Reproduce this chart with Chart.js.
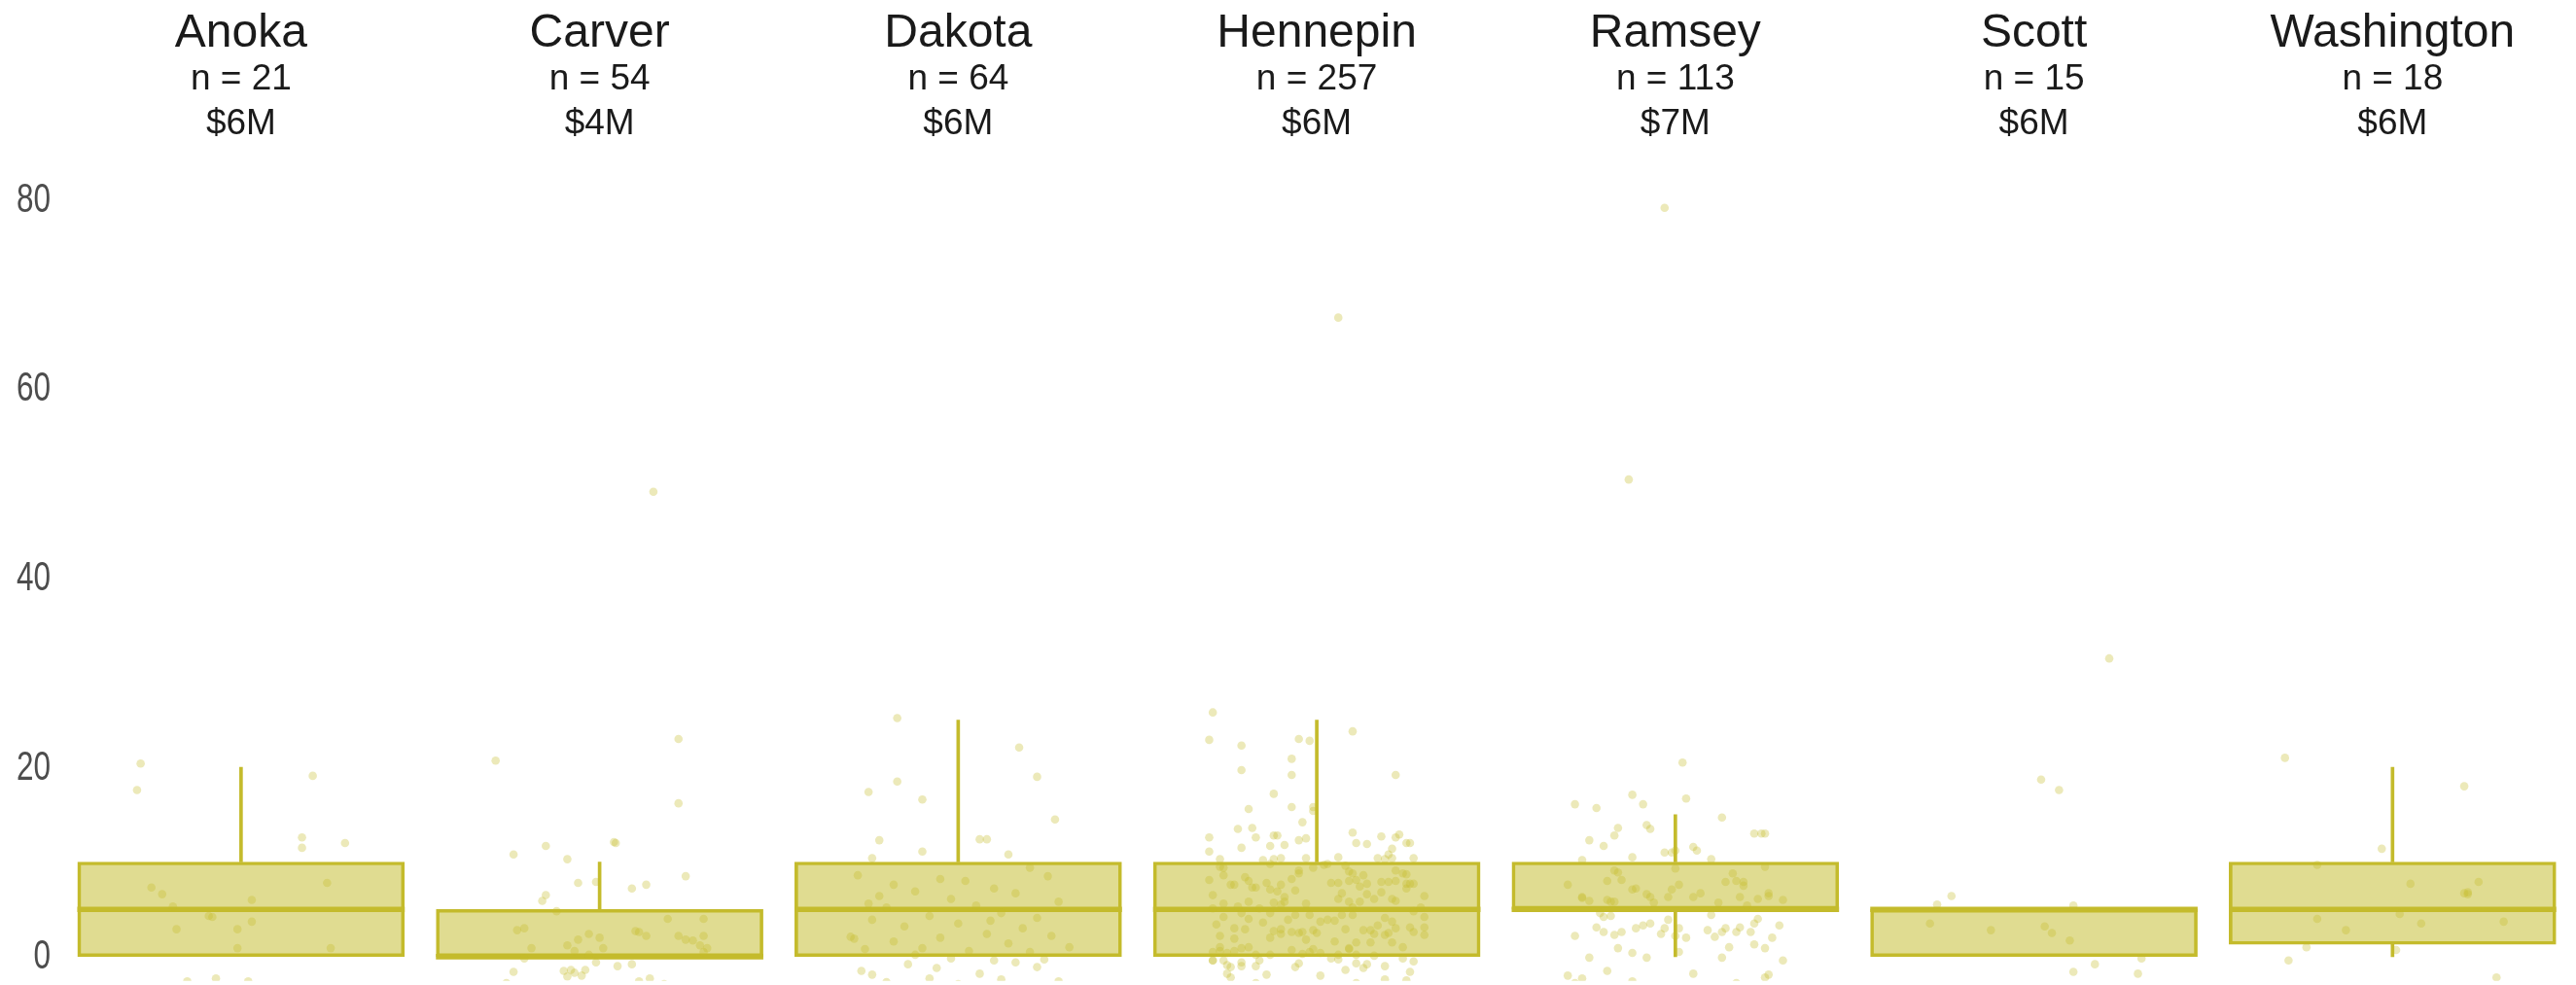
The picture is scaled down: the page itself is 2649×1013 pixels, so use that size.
<!DOCTYPE html>
<html>
<head>
<meta charset="utf-8">
<script src="https://cdn.jsdelivr.net/npm/chart.js@4.4.1/dist/chart.umd.min.js"></script>
<style>
  html, body { margin: 0; padding: 0; background: #ffffff; }
  #wrap { width: 2649px; height: 1013px; }
</style>
</head>
<body>
<div id="wrap"><canvas id="boxChart" width="2649" height="1013"></canvas></div>
<script>
// facet labels
const counties = ['Anoka', 'Carver', 'Dakota', 'Hennepin', 'Ramsey', 'Scott', 'Washington'];
const counts = [21, 54, 64, 257, 113, 15, 18];
const medianCost = ['$6M', '$4M', '$6M', '$6M', '$7M', '$6M', '$6M'];

// box plot summary per county
const q1 = [0, 0, 0, 0, 5, 0, 1.3];
const median = [5, 0, 5, 5, 5, 5, 5];
const q3 = [10, 5, 10, 10, 10, 5, 10];
const whiskerLow = [0, 0, 0, 0, 0, 0, 0];
const whiskerHigh = [20, 10, 25, 25, 15, 5, 20];

const yTicks = [0, 20, 40, 60, 80];

// jittered points: [horizontal jitter, value]
const anokaPoints = [[-0.28,20.4],[-0.29,17.6],[0.20,19.1],[0.17,12.6],[0.17,11.5],[0.29,12.0],[-0.25,7.3],
  [-0.22,6.6],[-0.19,5.3],[-0.09,4.3],[-0.08,4.2],[0.03,6.0],[0.03,3.7],[0.24,7.8],[-0.18,2.9],[-0.01,2.9],
  [-0.01,0.9],[0.25,0.9],[-0.15,-2.6],[-0.07,-2.3],[0.02,-2.6]];

const carverPoints = [[0.15,49.1],[-0.29,20.7],[0.22,23.0],[0.22,16.2],[0.04,12.1],[0.045,12.0],[-0.24,10.8],
  [-0.15,11.7],[-0.09,10.3],[0.24,8.5],[-0.06,7.8],[-0.01,7.9],[0.09,7.2],[0.13,7.6],[-0.15,6.5],[-0.16,5.9],
  [-0.12,4.8],[0.19,4.0],[0.29,4.0],[-0.23,2.8],[-0.21,3.0],[-0.03,2.4],[0.00,2.0],[-0.06,1.8],[-0.09,1.2],
  [0.10,2.7],[0.11,2.6],[0.13,2.2],[0.22,2.2],[0.24,1.8],[0.26,1.7],[0.29,2.2],[0.28,1.2],[0.30,0.9],
  [0.29,0.5],[-0.19,0.9],[-0.07,0.6],[0.01,0.9],[-0.03,0.2],[-0.21,-0.2],[-0.01,-0.6],[0.05,-1.0],
  [0.09,-0.8],[-0.24,-1.6],[-0.10,-1.5],[-0.08,-1.4],[-0.07,-1.7],[-0.04,-1.4],[-0.09,-2.1],[-0.05,-2.0],
  [0.14,-2.3],[0.11,-2.6],[-0.26,-2.8],[0.18,-2.9]];

const dakotaPoints = [[-0.17,25.2],[-0.25,17.4],[-0.17,18.5],[-0.10,16.6],[0.17,22.1],[0.22,19.0],[0.27,14.5],
  [0.06,12.4],[0.08,12.4],[-0.22,12.3],[-0.10,11.1],[-0.24,10.4],[0.14,10.8],[0.20,9.4],
  [-0.28,8.6],[-0.05,8.2],[0.02,8.0],[0.25,8.5],[-0.18,7.6],[0.10,7.2],[-0.12,6.9],[0.16,6.7],[-0.25,5.6],
  [-0.02,6.1],[0.28,5.8],[-0.20,5.2],[0.05,5.4],[0.12,4.6],[-0.08,4.3],[-0.24,3.9],[0.22,4.1],[0.00,3.5],
  [-0.15,3.2],[0.18,3.0],[-0.30,2.1],[-0.29,1.9],[0.08,2.4],[-0.05,2.0],[0.26,2.2],[-0.18,1.6],[0.14,1.4],
  [-0.26,0.8],[-0.10,0.9],[0.03,0.6],[0.31,1.0],[0.20,0.5],[-0.02,-0.2],[0.10,-0.4],
  [-0.27,-1.5],[-0.24,-1.9],[-0.14,-0.8],[-0.06,-1.2],[0.06,-1.8],[0.12,-2.4],[0.22,-1.1],[0.28,-2.6],
  [-0.20,-2.7],[0.00,-2.9],[0.16,-0.6],[-0.08,-2.3],[0.24,-0.3],[-0.12,0.2],[0.09,3.8],[-0.22,6.4]];

const hennepinPoints = [[0.06,67.5],[-0.29,25.8],[-0.30,22.9],[-0.21,22.3],[-0.05,23.0],[-0.02,22.8],[0.10,23.8],
  [-0.07,20.9],[-0.21,19.7],[-0.07,19.2],[0.22,19.2],[-0.12,17.2],[-0.19,15.6],[-0.07,15.8],[-0.01,15.8],
  [-0.01,15.4],[-0.04,14.2],[-0.22,13.5],[-0.18,13.6],[-0.30,12.6],[-0.17,12.6],[-0.12,12.8],[-0.11,12.8],
  [-0.05,12.3],[-0.03,12.5],[0.10,13.1],[0.11,12.0],[0.14,11.9],[0.18,12.7],[0.22,12.6],[0.23,12.9],
  [0.25,12.0],[0.26,12.0],[-0.30,11.1],[-0.21,11.5],[-0.13,11.7],[-0.09,11.8],[0.21,11.4],[0.20,10.8],
  [0.21,10.4],[0.17,10.4],[0.19,10.3],[0.27,10.4],[0.06,10.5],[-0.03,10.4],[-0.10,10.4],[-0.12,10.3],
  [-0.15,10.2],[-0.27,10.3],
  [-0.27,9.5],[-0.26,9.4],[-0.26,8.6],[-0.30,8.1],[-0.20,8.4],[-0.19,8.0],[-0.24,7.6],[-0.23,7.6],[-0.18,7.3],
  [-0.17,7.3],[-0.13,9.8],[-0.14,7.8],[-0.13,7.1],[-0.10,7.6],[-0.11,6.9],[-0.05,9.1],[-0.05,8.8],[-0.07,8.2],
  [-0.06,7.0],[-0.01,9.4],[0.02,9.7],[0.03,9.8],[0.08,9.6],[0.09,9.0],[0.10,8.8],[0.13,8.6],[0.11,8.1],
  [0.09,8.0],[0.04,7.8],[0.06,7.8],[0.12,7.4],[0.14,7.7],[0.18,7.9],[0.20,7.9],[0.22,9.1],[0.24,8.8],
  [0.25,8.7],[0.22,8.0],[0.25,7.7],[0.26,7.7],[0.27,7.7],[0.25,7.2],[0.18,6.8],[0.21,6.1],[0.22,5.9],
  [0.16,6.1],[0.14,6.6],[0.06,6.1],[0.07,6.7],[0.09,5.8],[0.12,5.8],[0.30,6.4],[0.29,5.2],[0.30,4.2],
  [0.30,3.1],[0.30,2.3],[0.27,2.6],[0.26,3.1],[0.27,4.8],[-0.29,6.5],[-0.26,5.6],[-0.29,5.1],[-0.26,4.2],
  [-0.28,3.4],[-0.27,2.2],[-0.23,1.9],[-0.23,3.0],[-0.20,2.9],[-0.19,4.0],[-0.21,4.6],[-0.19,5.8],
  [-0.22,5.3],[-0.15,3.6],[-0.16,5.1],[-0.13,4.6],[-0.12,5.7],[-0.09,6.3],[-0.09,5.8],[-0.10,5.5],
  [-0.08,3.9],[-0.06,4.4],[-0.13,2.0],[-0.12,2.7],[-0.10,2.4],[-0.10,2.9],[-0.07,2.6],[-0.05,2.5],
  [-0.04,2.6],[-0.03,1.8],[-0.01,2.8],[0.00,2.5],[-0.02,4.4],[-0.03,5.6],[0.01,3.7],[0.03,3.9],[0.05,3.8],
  [0.07,4.4],[0.10,4.4],[0.10,5.2],[0.05,1.6],[0.08,2.9],[0.11,1.5],[0.13,2.8],[0.15,2.8],[0.16,2.4],
  [0.17,3.3],[0.19,4.1],[0.21,3.7],[0.22,3.0],[0.20,2.5],[0.19,2.3],[0.21,1.5],[0.24,1.0],[0.15,1.5],
  [-0.29,0.5],[-0.27,0.6],[-0.27,1.0],[-0.25,0.4],[-0.23,0.6],[-0.21,0.9],[-0.19,1.0],[-0.17,0.2],
  [-0.13,0.2],[-0.07,0.7],[-0.04,0.3],[-0.02,0.5],[-0.01,0.8],[0.01,0.4],[0.04,-0.2],[0.06,-0.3],
  [0.06,0.2],[0.09,0.8],[0.09,0.9],[0.11,0.2],[0.16,0.1],[0.24,-0.2],
  [-0.29,-0.4],[-0.29,-0.4],[-0.26,-0.4],[-0.25,-0.9],[-0.24,-1.1],[-0.21,-1.0],[-0.21,-0.6],[-0.25,-1.8],
  [-0.24,-2.2],[-0.17,-1.0],[-0.16,-0.4],[-0.14,-1.9],[-0.17,-2.8],[-0.06,-1.1],[-0.05,-0.7],[0.01,-2.0],
  [0.08,-1.4],[0.11,-0.7],[0.13,-1.2],[0.14,-0.8],[0.19,-1.0],[0.19,-2.4],[0.11,-2.8],[0.25,-2.5],
  [0.26,-1.6],[0.27,-0.5]];

const ramseyPoints = [[-0.03,79.1],[-0.13,50.4],[0.02,20.5],[-0.12,17.1],[-0.28,16.1],[-0.22,15.7],[-0.09,16.1],
  [0.03,16.7],[0.13,14.7],[-0.08,13.9],[-0.07,13.5],[-0.16,13.6],[-0.17,12.8],[-0.24,12.3],[-0.20,11.7],
  [0.22,13.0],[0.24,13.0],[0.25,13.0],[0.05,11.6],[0.06,11.2],[-0.03,11.0],[-0.01,11.0],[0.00,11.2],
  [-0.12,10.5],[-0.26,10.2],[0.10,10.3],[0.25,9.5],[0.00,9.3],[-0.17,9.1],[-0.16,8.9],[0.16,8.8],
  [-0.30,7.6],[-0.19,8.0],[-0.15,8.1],[-0.11,7.2],[-0.12,7.1],[-0.01,7.1],[0.01,7.6],[0.14,7.9],[0.17,8.0],
  [0.19,7.9],[0.19,7.5],[-0.26,6.2],[-0.26,6.3],[-0.24,5.9],[-0.19,6.0],[-0.18,5.8],[-0.17,5.8],[-0.08,6.6],
  [-0.07,6.3],[-0.06,5.7],[-0.02,6.3],[0.05,6.3],[0.07,6.7],[0.12,5.7],[0.18,6.3],[0.20,5.4],[0.23,6.1],
  [0.26,6.7],[0.26,6.4],[0.30,6.0],[-0.21,4.6],[-0.20,4.2],[-0.18,4.3],[0.10,4.4],[0.23,4.0],[0.22,3.5],
  [-0.02,3.9],[-0.22,3.1],[-0.20,2.6],[-0.28,2.2],[-0.15,2.6],[-0.17,2.3],[-0.11,3.0],[-0.09,3.3],
  [-0.07,3.5],[-0.03,3.0],[-0.04,2.4],[0.00,2.2],[0.01,3.0],[0.03,2.0],[0.09,2.8],[0.11,2.1],[0.13,2.6],
  [0.14,3.0],[0.17,2.6],[0.18,3.1],[0.21,2.6],[0.29,3.3],[0.27,2.0],[0.25,0.9],[0.22,1.3],[0.15,1.0],
  [0.13,-0.1],[0.01,0.5],[-0.08,-0.1],[-0.12,0.4],[-0.16,0.9],[-0.24,-0.1],[0.30,-0.4],[-0.30,-2.0],
  [-0.26,-2.3],[-0.28,-2.8],[-0.19,-1.5],[-0.12,-2.6],[0.05,-1.8],[0.17,-2.8],[0.25,-2.2],[0.26,-1.9]];

const scottPoints = [[0.21,31.5],[0.02,18.7],[0.07,17.6],[-0.23,6.4],[-0.27,5.5],[0.11,5.4],[-0.29,3.5],
  [-0.12,2.8],[0.03,3.2],[0.05,2.5],[0.10,1.7],[0.30,-0.2],[0.17,-0.8],[0.11,-1.6],[0.29,-1.8]];

const washingtonPoints = [[-0.30,21.0],[0.20,18.0],[-0.03,11.4],[-0.21,9.7],[0.05,7.7],[0.24,7.9],[0.21,6.6],
  [0.21,6.8],[0.02,4.5],[-0.21,4.0],[-0.13,2.8],[0.08,3.5],[0.31,3.7],[-0.24,1.0],[0.01,0.7],[-0.29,-0.4],
  [0.29,-2.2],[0.20,6.7]];

const pointSets = [anokaPoints, carverPoints, dakotaPoints, hennepinPoints, ramseyPoints, scottPoints, washingtonPoints];

const olive = 'rgb(196, 187, 44)';
const oliveFill = 'rgba(196, 187, 44, 0.52)';
const olivePoint = 'rgba(196, 187, 44, 0.33)';
const boxWidth = 336;

const boxData = counties.map((c, i) => ({x: i, y: [q1[i], q3[i]]}));
const medianData = counties.map((c, i) => ({x: i, y: [median[i] - 0.25, median[i] + 0.25]}));
const upperWhiskers = [];
const lowerWhiskers = [];
counties.forEach((c, i) => {
    if (whiskerHigh[i] > q3[i]) upperWhiskers.push({x: i, y: [q3[i], whiskerHigh[i]]});
    if (whiskerLow[i] < q1[i]) lowerWhiskers.push({x: i, y: [whiskerLow[i], q1[i]]});
});
const jitterData = [];
pointSets.forEach((pts, i) => {
    pts.forEach(p => jitterData.push({x: i + p[0], y: p[1]}));
});

// county name, n and median cost above each facet
const facetTitles = {
    id: 'facetTitles',
    afterDraw(chart) {
        const ctx = chart.ctx;
        const xScale = chart.scales.x;
        ctx.save();
        ctx.fillStyle = '#1a1a1a';
        ctx.textAlign = 'center';
        ctx.textBaseline = 'alphabetic';
        counties.forEach((name, i) => {
            const px = xScale.getPixelForValue(i);
            ctx.font = '48px "Liberation Sans", Arial, sans-serif';
            ctx.fillText(name, px, 48);
            ctx.font = '37px "Liberation Sans", Arial, sans-serif';
            ctx.fillText('n = ' + counts[i], px, 92);
            ctx.fillText(medianCost[i], px, 138);
        });
        ctx.restore();
    }
};

// narrow y tick labels (no condensed font installed, so squeeze horizontally)
const narrowYLabels = {
    id: 'narrowYLabels',
    afterDraw(chart) {
        const ctx = chart.ctx;
        const yScale = chart.scales.y;
        ctx.save();
        ctx.fillStyle = '#4d4d4d';
        ctx.font = '42px "Liberation Sans", Arial, sans-serif';
        ctx.textAlign = 'right';
        ctx.textBaseline = 'middle';
        yTicks.forEach(v => {
            const py = yScale.getPixelForValue(v);
            ctx.save();
            ctx.translate(52, py + 1);
            ctx.scale(0.75, 1);
            ctx.fillText(String(v), 0, 0);
            ctx.restore();
        });
        ctx.restore();
    }
};

const ctx = document.getElementById('boxChart').getContext('2d');
new Chart(ctx, {
    type: 'bar',
    data: {
        datasets: [
            {
                type: 'scatter',
                data: jitterData,
                backgroundColor: olivePoint,
                borderWidth: 0,
                pointRadius: 4.3,
                order: 0
            },
            {
                data: medianData,
                backgroundColor: olive,
                borderWidth: 0,
                grouped: false,
                barThickness: boxWidth,
                order: 1
            },
            {
                data: upperWhiskers,
                backgroundColor: olive,
                borderWidth: 0,
                grouped: false,
                barThickness: 3,
                order: 2
            },
            {
                data: lowerWhiskers,
                backgroundColor: olive,
                borderWidth: 0,
                grouped: false,
                barThickness: 3,
                order: 2
            },
            {
                data: boxData,
                backgroundColor: oliveFill,
                borderColor: olive,
                borderWidth: 3,
                borderSkipped: false,
                grouped: false,
                barThickness: boxWidth,
                order: 3
            }
        ]
    },
    options: {
        responsive: false,
        animation: false,
        events: [],
        layout: {padding: {top: 166, left: 0, right: 3, bottom: 0}},
        plugins: {
            legend: {display: false},
            tooltip: {enabled: false}
        },
        scales: {
            x: {
                type: 'linear',
                min: -0.5,
                max: 6.5,
                offset: false,
                display: false
            },
            y: {
                min: -2.55,
                max: 84,
                grid: {display: false, drawTicks: false},
                border: {display: false},
                afterBuildTicks: scale => { scale.ticks = yTicks.map(v => ({value: v})); },
                afterFit: scale => { scale.width = 63.5; },
                ticks: {display: false}
            }
        }
    },
    plugins: [facetTitles, narrowYLabels]
});
</script>
</body>
</html>
